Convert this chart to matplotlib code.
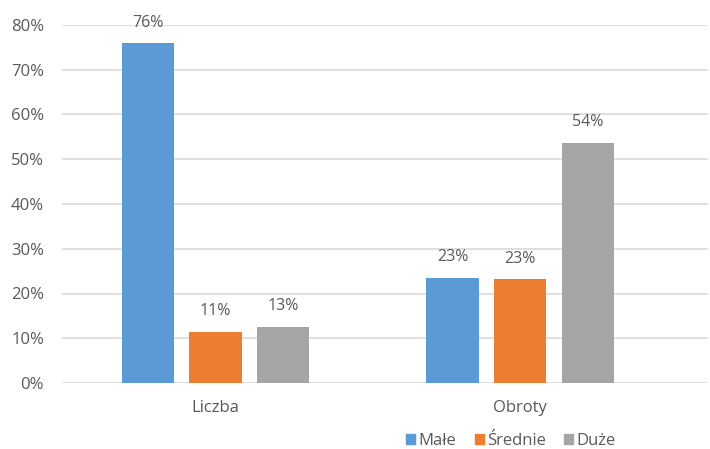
import numpy as np
import matplotlib.pyplot as plt
from matplotlib.patches import Patch

categories = ['Liczba', 'Obroty']
series_names = ['Małe', 'Średnie', 'Duże']
male = [75.9, 23.5]
srednie = [11.4, 23.2]
duze = [12.6, 53.7]
labels = [['76%', '23%'], ['11%', '23%'], ['13%', '54%']]
colors = ['#5B9BD5', '#ED7D31', '#A5A5A5']

plt.rcParams['font.family'] = ['Open Sans', 'DejaVu Sans']
text_color = '#595959'

fig = plt.figure(figsize=(7.10, 4.49), dpi=100)
ax = fig.add_axes([62 / 710, 1 - 383 / 449, 646 / 710, 358 / 449])

x = np.arange(len(categories))
width = 0.171
step = 0.222
for i, (vals, col) in enumerate(zip([male, srednie, duze], colors)):
    bars = ax.bar(x + (i - 1) * step, vals, width, color=col, zorder=3)
    for b, lab in zip(bars, labels[i]):
        ax.annotate(lab, (b.get_x() + b.get_width() / 2, b.get_height()),
                    xytext=(0, 9), textcoords='offset points',
                    ha='center', va='bottom', fontsize=11.5, color=text_color)

ax.set_xlim(-0.504, 1.617)
ax.set_ylim(0, 80)
ax.set_yticks(range(0, 81, 10))
ax.set_yticklabels([f'{v}%' for v in range(0, 81, 10)])
ax.set_xticks(x)
ax.set_xticklabels(categories)
ax.grid(axis='y', color='#D9D9D9', linewidth=1.2, zorder=0)
for s in ax.spines.values():
    s.set_visible(False)
ax.tick_params(axis='both', length=0, labelsize=12, colors=text_color)
ax.tick_params(axis='y', pad=13)
ax.tick_params(axis='x', pad=12)

handles = [Patch(color=c) for c in colors]
fig.legend(handles, series_names, loc='center', bbox_to_anchor=(511 / 710, 1 - 441 / 449),
           ncol=3, frameon=False, fontsize=12, handlelength=0.55, handleheight=0.55,
           handletextpad=0.2, columnspacing=1.1, labelcolor=text_color)

fig.savefig('out.png', dpi=100)
